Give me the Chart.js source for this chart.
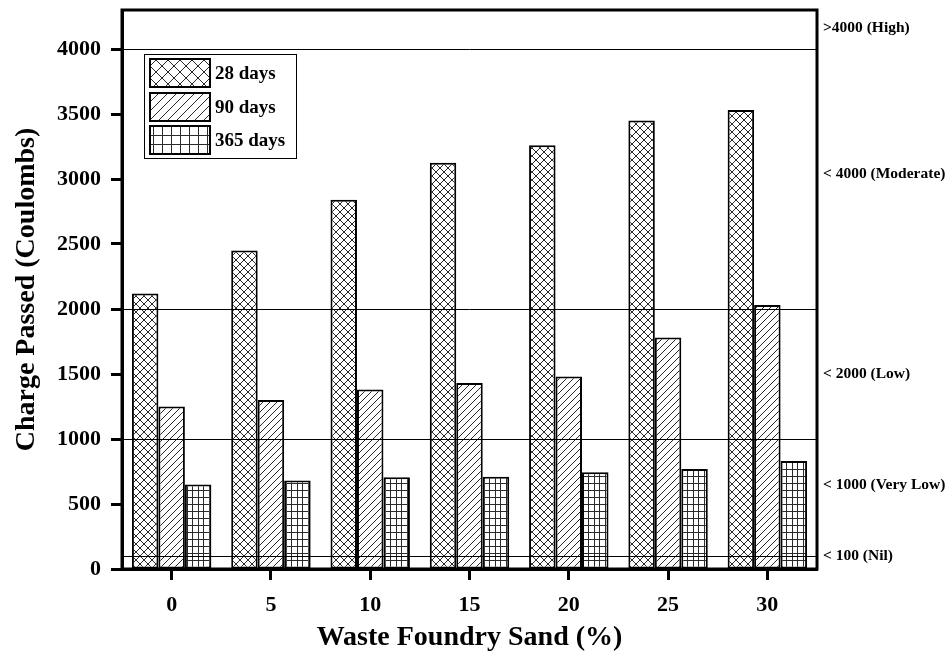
<!DOCTYPE html>
<html>
<head>
<meta charset="utf-8">
<script src="https://cdn.jsdelivr.net/npm/chart.js@4/dist/chart.umd.min.js"></script>
<style>
  html, body { margin: 0; padding: 0; background: #fff; }
  canvas { display: block; }
</style>
</head>
<body>
<canvas id="chart" width="952" height="662" style="width:952px;height:662px"></canvas>
<script>
// Waste foundry sand replacement levels (%)
const categories = ['0', '5', '10', '15', '20', '25', '30'];
// Charge passed (Coulombs) by curing age
const days28 = [2120, 2450, 2840, 3125, 3260, 3450, 3530];
const days90 = [1250, 1300, 1380, 1430, 1480, 1780, 2030];
const days365 = [650, 680, 705, 710, 745, 770, 830];
const seriesNames = ['28 days', '90 days', '365 days'];
// Y axis tick values
const yTicks = [0, 500, 1000, 1500, 2000, 2500, 3000, 3500, 4000];
// Chloride ion penetrability class limits and their labels
const limitValues = [4000, 2000, 1000, 100];
const classNames = ['>4000 (High)', '< 4000 (Moderate)', '< 2000 (Low)', '< 1000 (Very Low)', '< 100 (Nil)'];
const classLevels = [4160, 3040, 1500, 645, 100];

const SERIF = '"Liberation Serif", "Times New Roman", serif';
const INK = '#2a2a2a';

// Hatch fills
function crossPattern(s) {
  const c = document.createElement('canvas');
  c.width = s; c.height = s;
  const g = c.getContext('2d');
  g.fillStyle = '#fff'; g.fillRect(0, 0, s, s);
  g.strokeStyle = INK; g.lineWidth = 1;
  g.beginPath();
  g.moveTo(-1, -1); g.lineTo(s + 1, s + 1);
  g.moveTo(s + 1, -1); g.lineTo(-1, s + 1);
  g.stroke();
  return g.createPattern(c, 'repeat');
}
function diagPattern(s) {
  const c = document.createElement('canvas');
  c.width = s; c.height = s;
  const g = c.getContext('2d');
  g.fillStyle = '#fff'; g.fillRect(0, 0, s, s);
  g.strokeStyle = INK; g.lineWidth = 1;
  g.beginPath();
  g.moveTo(-1, s + 1); g.lineTo(s + 1, -1);
  g.moveTo(-2, 2); g.lineTo(2, -2);
  g.moveTo(s - 2, s + 2); g.lineTo(s + 2, s - 2);
  g.stroke();
  return g.createPattern(c, 'repeat');
}
function gridPattern(xs, ys, w, h) {
  const c = document.createElement('canvas');
  c.width = w; c.height = h;
  const g = c.getContext('2d');
  g.fillStyle = '#fff'; g.fillRect(0, 0, w, h);
  g.fillStyle = INK;
  xs.forEach(x => g.fillRect(x, 0, 1, h));
  ys.forEach(y => g.fillRect(0, y, w, 1));
  return g.createPattern(c, 'repeat');
}

const barFills = [crossPattern(8), diagPattern(7), gridPattern([0, 5], [0, 7], 11, 14)];
const keyFills = [crossPattern(12), diagPattern(9), gridPattern([0], [0], 9, 9)];

// Class limit lines, class labels, frame and key
const decorations = {
  id: 'decorations',
  afterDatasetsDraw(chart) {
    const { ctx, chartArea: a, scales: { y } } = chart;
    ctx.save();
    ctx.strokeStyle = '#000';
    ctx.lineWidth = 1;
    limitValues.forEach(v => {
      const py = Math.round(y.getPixelForValue(v)) + 0.5;
      ctx.beginPath();
      ctx.moveTo(a.left, py);
      ctx.lineTo(a.right, py);
      ctx.stroke();
    });
    ctx.restore();
  },
  afterDraw(chart) {
    const { ctx, chartArea: a, scales: { y } } = chart;
    ctx.save();
    // frame
    ctx.strokeStyle = '#000';
    ctx.lineWidth = 3;
    ctx.strokeRect(a.left, a.top, a.right - a.left, a.bottom - a.top);

    // class labels on the right
    ctx.fillStyle = '#000';
    ctx.font = 'bold 15.5px ' + SERIF;
    ctx.textBaseline = 'middle';
    ctx.textAlign = 'left';
    classNames.forEach((t, i) => {
      ctx.fillText(t, a.right + 6, y.getPixelForValue(classLevels[i]));
    });

    // key
    const bx = a.left + 22, by = a.top + 44;
    ctx.fillStyle = '#fff';
    ctx.fillRect(bx, by, 152, 104);
    ctx.lineWidth = 1;
    ctx.strokeStyle = '#000';
    ctx.strokeRect(bx + 0.5, by + 0.5, 152, 104);
    const rows = [by + 5, by + 39, by + 72];
    seriesNames.forEach((name, i) => {
      const sx = bx + 6, sy = rows[i];
      ctx.fillStyle = keyFills[i];
      ctx.fillRect(sx, sy, 60, 28);
      ctx.lineWidth = 2;
      ctx.strokeRect(sx, sy, 60, 28);
      ctx.fillStyle = '#000';
      ctx.font = 'bold 19px ' + SERIF;
      ctx.textBaseline = 'middle';
      ctx.fillText(name, sx + 65, sy + 15);
    });
    ctx.restore();
  }
};

const series = [days28, days90, days365];
new Chart(document.getElementById('chart'), {
  type: 'bar',
  data: {
    labels: categories,
    datasets: series.map((d, i) => ({
      label: seriesNames[i],
      data: d,
      backgroundColor: barFills[i],
      borderColor: '#000',
      borderWidth: 2,
      borderSkipped: false,
      categoryPercentage: 0.8,
      barPercentage: 1.0
    }))
  },
  options: {
    responsive: false,
    animation: false,
    devicePixelRatio: 1,
    layout: { padding: { top: 10, right: 135, left: 0, bottom: 0 } },
    plugins: { legend: { display: false }, tooltip: { enabled: false } },
    scales: {
      x: {
        grid: { offset: false, drawOnChartArea: false, tickLength: 11, tickWidth: 3, tickColor: '#000' },
        border: { width: 3, color: '#000' },
        ticks: { color: '#000', padding: 12, font: { family: SERIF, size: 22, weight: 'bold' } },
        title: {
          display: true, text: 'Waste Foundry Sand (%)', color: '#000',
          font: { family: SERIF, size: 28, weight: 'bold' }, padding: { top: 0, bottom: 7 }
        },
        afterFit(s) { s.height = 93; s.paddingLeft = 0; s.paddingRight = 0; }
      },
      y: {
        min: 0,
        max: 4300,
        grid: { drawOnChartArea: false, tickLength: 11, tickWidth: 3, tickColor: '#000' },
        border: { width: 3, color: '#000' },
        ticks: {
          autoSkip: false, color: '#000', padding: 10,
          font: { family: SERIF, size: 22, weight: 'bold' },
          callback: v => String(v)
        },
        afterBuildTicks(s) { s.ticks = yTicks.map(v => ({ value: v })); },
        title: {
          display: true, text: 'Charge Passed (Coulombs)', color: '#000',
          font: { family: SERIF, size: 28, weight: 'bold' }, padding: { top: 10, bottom: 0 }
        },
        afterFit(s) { s.width = 122; s.paddingTop = 0; s.paddingBottom = 0; }
      }
    }
  },
  plugins: [decorations]
});
</script>
</body>
</html>
